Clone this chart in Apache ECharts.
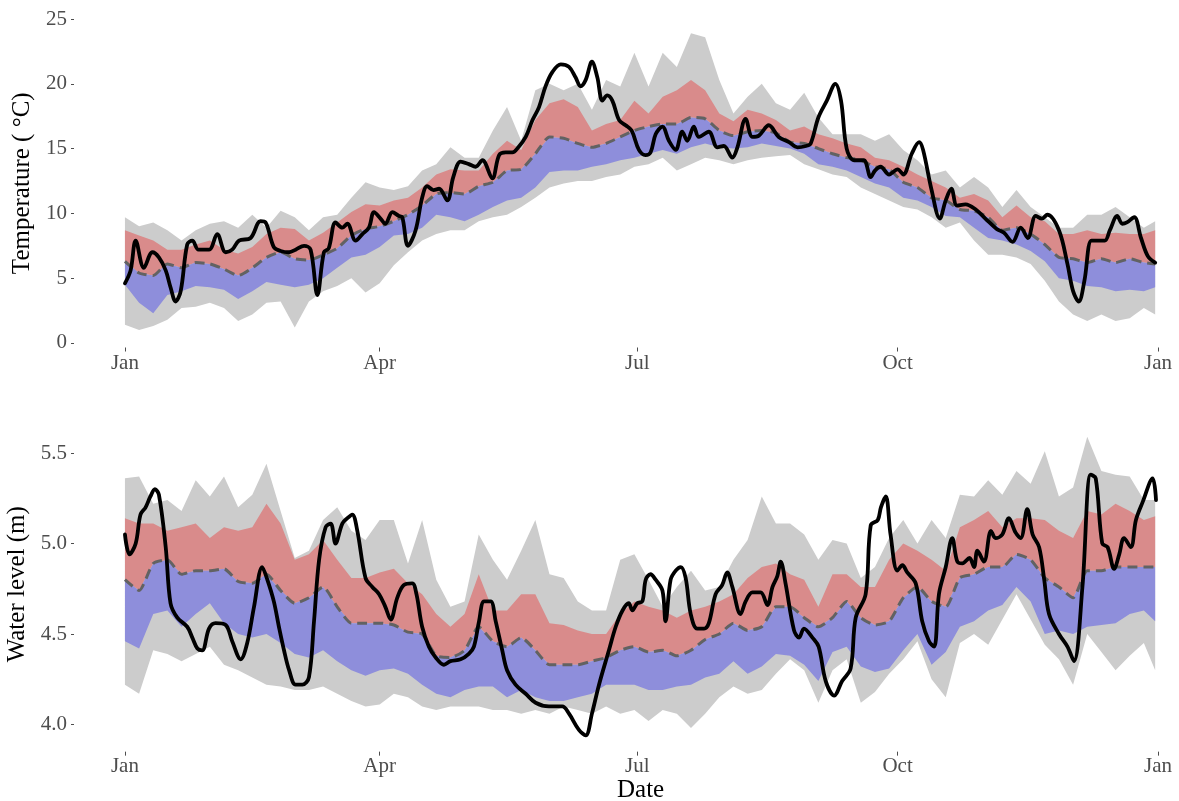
<!DOCTYPE html>
<html>
<head>
<meta charset="utf-8">
<title>Temperature and water level</title>
<script src="https://cdn.jsdelivr.net/npm/echarts@6/dist/echarts.min.js"></script>
<style>
  html, body { margin: 0; padding: 0; background: #ffffff; }
  #chart { width: 1179px; height: 801px; }
</style>
</head>
<body>
<div id="chart"></div>
<script>
// Day of year (0 = 1 Jan) at which the climatology bands are sampled
const bandDays = [
  0, 5, 10, 15, 20, 25, 30, 35, 40, 45,
  50, 55, 60, 65, 70, 75, 80, 85, 90, 95,
  100, 105, 110, 115, 120, 125, 130, 135, 140, 145,
  150, 155, 160, 165, 170, 175, 180, 185, 190, 195,
  200, 205, 210, 215, 220, 225, 230, 235, 240, 245,
  250, 255, 260, 265, 270, 275, 280, 285, 290, 295,
  300, 305, 310, 315, 320, 325, 330, 335, 340, 345,
  350, 355, 360, 364
];

// Temperature climatology (°C): max, upper quartile, median, lower quartile, min
const tempMax = [
  9.7, 9.0, 9.3, 8.7, 7.9, 8.7, 9.2, 9.4, 8.9, 9.9,
  8.9, 10.2, 9.7, 8.7, 9.7, 9.9, 11.2, 12.4, 12.0, 11.8,
  12.1, 13.3, 13.8, 15.1, 14.3, 14.3, 16.4, 18.2, 15.6, 19.5,
  20.0, 19.5, 20.0, 18.0, 20.3, 19.8, 22.4, 19.8, 22.4, 21.3,
  23.9, 23.6, 20.3, 17.7, 19.0, 20.0, 18.5, 18.0, 19.3, 17.4,
  16.1, 16.1, 16.1, 15.6, 16.1, 14.9, 14.1, 13.0, 13.3, 12.0,
  12.8, 12.0, 10.5, 11.8, 10.5, 9.7, 8.9, 8.9, 9.9, 9.9,
  10.5, 9.7, 8.9, 9.4
];
const tempQ75 = [
  8.7, 8.3, 7.9, 7.2, 7.2, 7.6, 7.9, 7.2, 6.9, 7.4,
  8.4, 8.9, 8.8, 7.9, 8.5, 9.3, 10.1, 10.7, 10.6, 11.0,
  11.2, 12.0, 13.0, 13.4, 13.3, 13.3, 14.6, 15.6, 14.9, 17.2,
  18.5, 18.8, 18.2, 16.4, 16.9, 17.2, 18.7, 17.7, 19.0, 19.5,
  20.3, 19.5, 17.7, 17.1, 18.0, 17.7, 17.2, 16.4, 16.7, 16.1,
  15.8, 15.4, 15.1, 14.3, 14.1, 13.6, 13.0, 12.5, 12.0, 11.2,
  11.5, 11.0, 9.7, 10.6, 9.7, 9.4, 8.4, 8.4, 8.7, 8.4,
  8.5, 8.4, 8.4, 8.7
];
const tempMedian = [
  6.3, 5.4, 5.2, 6.1, 5.8, 6.2, 6.1, 5.7, 5.2, 5.8,
  6.6, 7.0, 6.5, 6.4, 6.8, 7.3, 8.3, 8.8, 9.0, 9.4,
  9.9, 10.6, 11.5, 11.6, 11.5, 12.1, 12.4, 13.3, 13.4, 14.6,
  15.9, 15.8, 15.4, 15.1, 15.4, 15.9, 16.4, 16.7, 16.9, 16.9,
  17.4, 17.3, 16.4, 16.0, 16.3, 16.4, 16.2, 15.5, 15.4, 15.0,
  14.6, 14.3, 14.1, 13.6, 13.4, 12.4, 12.0, 11.2, 11.0, 10.3,
  10.2, 9.7, 8.7, 8.9, 8.4, 7.6, 6.6, 6.5, 6.2, 6.5,
  6.2, 6.5, 6.2, 6.1
];
const tempQ25 = [
  4.5, 3.1, 2.3, 3.7, 4.0, 4.4, 4.3, 4.1, 3.4, 4.0,
  4.7, 4.5, 4.3, 4.5, 5.0, 5.8, 6.6, 6.8, 7.4, 8.3,
  8.4, 8.9, 9.9, 9.7, 9.4, 9.9, 10.5, 11.0, 11.2, 12.0,
  13.2, 13.3, 13.3, 13.6, 13.8, 14.1, 14.3, 14.6, 14.9, 14.6,
  15.1, 15.4, 15.1, 15.0, 15.1, 15.4, 15.2, 15.0, 14.6, 13.8,
  13.6, 13.3, 12.8, 12.3, 12.0, 11.2, 11.0, 10.5, 9.8, 9.7,
  8.9, 8.1, 7.9, 7.6, 7.1, 6.3, 5.0, 4.8, 4.4, 4.3,
  4.0, 4.1, 4.0, 4.3
];
const tempMin = [
  1.4, 1.0, 1.3, 1.8, 2.7, 2.8, 3.1, 2.7, 1.7, 2.2,
  3.1, 3.2, 1.2, 3.2, 4.0, 4.4, 5.0, 3.9, 4.6, 6.0,
  7.0, 7.9, 8.4, 8.7, 8.7, 9.4, 9.7, 9.9, 10.5, 11.2,
  12.0, 12.3, 12.5, 12.5, 12.8, 13.0, 13.6, 13.8, 14.3, 13.3,
  13.8, 14.3, 14.1, 13.8, 14.1, 14.3, 14.4, 14.5, 13.8, 13.4,
  13.0, 12.8, 12.0, 11.5, 11.0, 10.5, 10.3, 9.7, 8.9, 9.3,
  7.9, 6.8, 6.8, 6.6, 6.1, 4.8, 3.2, 2.2, 1.7, 2.2,
  1.7, 1.9, 2.7, 2.2
];

// Water level climatology (m): max, upper quartile, median, lower quartile, min
const levelMax = [
  5.36, 5.37, 5.22, 5.24, 5.18, 5.35, 5.26, 5.37, 5.20, 5.27,
  5.44, 5.18, 4.92, 4.96, 5.13, 5.20, 5.07, 5.02, 5.13, 5.13,
  4.89, 5.13, 4.80, 4.65, 4.68, 5.05, 4.91, 4.80, 4.96, 5.13,
  4.83, 4.81, 4.68, 4.63, 4.63, 4.91, 4.94, 4.80, 4.65, 4.76,
  4.85, 4.74, 4.76, 4.91, 5.02, 5.26, 5.11, 5.11, 5.05, 4.91,
  5.02, 5.00, 4.81, 4.87, 5.03, 5.13, 5.00, 5.13, 5.03, 5.27,
  5.26, 5.35, 5.27, 5.40, 5.33, 5.51, 5.26, 5.31, 5.59, 5.40,
  5.38, 5.37, 5.24, 5.24
];
const levelQ75 = [
  5.14, 5.11, 5.11, 5.07, 5.09, 5.11, 5.03, 5.09, 5.07, 5.09,
  5.22, 5.11, 4.91, 4.94, 5.02, 4.91, 4.81, 4.81, 4.84, 4.86,
  4.78, 4.72, 4.61, 4.54, 4.61, 4.83, 4.63, 4.63, 4.72, 4.72,
  4.56, 4.55, 4.52, 4.50, 4.50, 4.61, 4.68, 4.65, 4.63, 4.59,
  4.63, 4.65, 4.68, 4.72, 4.81, 4.87, 4.89, 4.83, 4.80, 4.65,
  4.83, 4.83, 4.76, 4.76, 4.91, 5.00, 4.96, 4.91, 4.85, 5.09,
  5.13, 5.18, 5.09, 5.14, 5.14, 5.13, 5.07, 5.03, 5.18, 5.16,
  5.22, 5.18, 5.13, 5.15
];
const levelMedian = [
  4.80, 4.74, 4.89, 4.91, 4.83, 4.85, 4.85, 4.86, 4.79, 4.78,
  4.83, 4.74, 4.67, 4.70, 4.76, 4.65, 4.56, 4.56, 4.56, 4.55,
  4.51, 4.50, 4.38, 4.37, 4.41, 4.54, 4.46, 4.43, 4.48, 4.41,
  4.33, 4.33, 4.33, 4.35, 4.37, 4.41, 4.43, 4.40, 4.41, 4.38,
  4.41, 4.47, 4.50, 4.56, 4.52, 4.54, 4.65, 4.65, 4.59, 4.54,
  4.59, 4.68, 4.59, 4.55, 4.57, 4.70, 4.76, 4.68, 4.65, 4.81,
  4.83, 4.87, 4.87, 4.94, 4.91, 4.81, 4.76, 4.70, 4.85, 4.85,
  4.87, 4.87, 4.87, 4.87
];
const levelQ25 = [
  4.46, 4.42, 4.61, 4.63, 4.54, 4.61, 4.67, 4.56, 4.50, 4.48,
  4.50, 4.45, 4.39, 4.37, 4.41, 4.35, 4.30, 4.27, 4.30, 4.31,
  4.28, 4.22, 4.17, 4.15, 4.19, 4.21, 4.21, 4.15, 4.19, 4.15,
  4.13, 4.13, 4.15, 4.17, 4.22, 4.22, 4.22, 4.19, 4.19, 4.21,
  4.22, 4.26, 4.28, 4.35, 4.28, 4.32, 4.39, 4.38, 4.33, 4.24,
  4.40, 4.43, 4.32, 4.29, 4.31, 4.41, 4.50, 4.33, 4.40, 4.54,
  4.57, 4.63, 4.66, 4.76, 4.68, 4.50, 4.52, 4.50, 4.54, 4.55,
  4.56, 4.61, 4.63, 4.57
];
const levelMin = [
  4.22, 4.17, 4.41, 4.39, 4.35, 4.39, 4.43, 4.33, 4.30, 4.26,
  4.22, 4.21, 4.19, 4.19, 4.21, 4.17, 4.13, 4.10, 4.11, 4.17,
  4.15, 4.10, 4.08, 4.10, 4.10, 4.10, 4.08, 4.08, 4.06, 4.08,
  4.06, 4.10, 4.08, 4.06, 4.10, 4.06, 4.08, 4.02, 4.08, 4.06,
  3.98, 4.06, 4.15, 4.21, 4.17, 4.19, 4.28, 4.36, 4.30, 4.12,
  4.30, 4.36, 4.12, 4.18, 4.28, 4.36, 4.46, 4.25, 4.15, 4.45,
  4.50, 4.44, 4.58, 4.72, 4.58, 4.44, 4.36, 4.22, 4.50, 4.40,
  4.30, 4.38, 4.45, 4.30
];

// Current-year daily temperature (°C)
const tempObsDays = [
  0, 2, 3.8, 6.7, 9.7, 12, 14.4, 16.1, 17.9, 19.7, 22, 23.8, 26, 29.7, 32.6, 35.6,
  37.9, 40.3, 44.4, 47.9, 49.7, 52.6, 55, 58, 60.3, 63.3, 65.6, 68, 70.3, 72, 74.4,
  76.8, 78.6, 81.5, 83.9, 86.2, 88, 90.3, 92, 94.5, 96.8, 98, 100, 102.7, 105, 106.8,
  109, 111, 113.9, 116, 118.6, 121.5, 123.9, 126.3, 129.8, 132.2, 134.5, 136.9, 139,
  141.6, 144, 146.3, 148.6, 151, 154, 156.9, 159.2, 161, 162.8, 165, 166.9, 168.7,
  170.4, 172.2, 174.6, 176.9, 179, 181.6, 183.9, 185.7, 187.5, 189.9, 192.2, 194.6,
  196.9, 198.7, 201, 202.8, 206.3, 209.3, 211.6, 214.6, 216.4, 219.3, 221.7, 224,
  227.5, 231, 234.6, 237.6, 240.6, 242.3, 245, 248, 251, 253, 255, 257.6, 261, 263.5,
  265, 267, 270, 273, 275, 278, 280.6, 282, 285, 287.9, 290, 292, 294, 297, 300.6,
  304, 308, 310.6, 313.6, 316.5, 319, 321.8, 324, 325.9, 330, 333, 335, 337, 339,
  341.5, 344, 346.2, 348, 350.6, 352.4, 354, 356.6, 359, 361.4, 364
];
const tempObs = [
  4.6, 5.6, 7.9, 5.8, 7.0, 6.6, 5.6, 4.3, 3.2, 4.0, 7.6, 7.9, 7.2, 7.2, 8.4, 7.0,
  7.2, 7.9, 8.1, 9.4, 9.3, 7.4, 7.1, 7.0, 7.2, 7.5, 7.2, 3.7, 7.0, 7.3, 9.3,
  8.9, 9.2, 7.9, 8.4, 8.9, 10.1, 9.6, 9.2, 10.1, 9.8, 9.7, 7.5, 8.7, 11.2, 12.1,
  11.8, 11.9, 11.0, 12.8, 14.0, 13.8, 13.6, 14.1, 12.7, 14.5, 14.7, 14.7, 15.1,
  15.9, 17.2, 18.2, 19.8, 20.9, 21.5, 21.3, 20.5, 19.8, 20.3, 21.7, 20.5, 18.7,
  19.1, 18.7, 17.2, 16.8, 16.4, 14.9, 14.5, 14.7, 16.1, 16.7, 15.6, 14.9,
  16.3, 15.6, 16.7, 15.9, 16.3, 15.1, 15.2, 14.3, 15.1, 17.3, 15.9, 16.0,
  16.8, 15.9, 15.5, 15.1, 15.2, 15.4, 17.4, 18.7, 20.0, 18.7, 15.0, 14.1, 14.1, 12.8,
  13.3, 13.6, 13.0, 13.4, 13.0, 14.6, 15.5, 14.9, 11.8, 9.6, 11.0, 11.9, 10.6, 10.7, 10.3,
  9.6, 8.8, 8.5, 7.8, 8.9, 8.1, 9.8, 9.6, 9.9, 8.7, 6.1, 4.0, 3.2, 4.8,
  7.9, 7.9, 7.9, 8.7, 9.8, 9.2, 9.3, 9.7, 8.1, 6.7, 6.2
];

// Current-year daily water level (m)
const levelObsDays = [
  0, 1.6, 3.8, 5.5, 7.3, 9, 10.6, 12, 14.4, 16.1, 18.5, 22, 23.8, 25.6, 27.3, 29.7,
  32, 35.6, 37.9, 40.9, 43.2, 45.6, 48.5, 50.3, 52.6, 54.4, 56.2, 58, 60.3, 62.7, 65,
  66.8, 68.6, 70.9, 72.7, 74.4, 76.8, 78.6, 80.3, 82.1, 85, 87.4, 89.8, 92, 93.9,
  96.2, 98.5, 101.5, 103, 105, 107.4, 109.8, 112.7, 115, 118.6, 121.5, 123.3, 125.1,
  126.9, 129.2, 131, 133.3, 135, 138, 141.6, 145.1, 149.8, 154.5, 156.9, 160.4, 162.8,
  165, 167.5, 171, 173.4, 175.8, 178, 179.3, 181, 182.8, 184, 185.7, 187.5, 189.9, 191,
  192.8, 194.6, 196.4, 198.1, 199.9, 202.2, 204.6, 206.3, 208.7, 211, 212.8, 214.6,
  217.5, 219.3, 221.7, 224.6, 227, 228.8, 230.5, 231.7, 233.4, 236.4, 238.2, 239.9,
  242.9, 245.1, 247.6, 250.6, 253.4, 256.4, 258.2, 261.7, 263.5, 266, 267.1, 268.8,
  270.5, 272.9, 274.7, 276.4, 279.4, 281.7, 284.1, 285.9, 287.6, 290, 292.3, 294.1,
  295.9, 298.4, 300, 301.2, 303.5, 306, 307.6, 310, 312.3, 314.7, 316.5, 318.8, 320.7,
  323, 324.8, 326.5, 330, 333, 335.3, 338.3, 341.2, 343, 345.3, 347.2, 349.5, 351.3,
  353, 355.4, 357.2, 359.6, 363.1, 364.3
];
const levelObs = [
  5.05, 4.94, 5.00, 5.16, 5.20, 5.26, 5.30, 5.27, 4.98, 4.67, 4.59, 4.54, 4.48, 4.42, 4.41, 4.53,
  4.56, 4.55, 4.46, 4.36, 4.45, 4.65, 4.87, 4.80, 4.68, 4.54, 4.41, 4.30, 4.22, 4.22, 4.26,
  4.57, 4.91, 5.09, 5.11, 5.00, 5.11, 5.14, 5.16, 5.07, 4.81, 4.76, 4.72, 4.65, 4.58,
  4.70, 4.77, 4.78, 4.72, 4.54, 4.43, 4.37, 4.33, 4.35, 4.36, 4.39, 4.43, 4.57,
  4.68, 4.68, 4.57, 4.41, 4.30, 4.22, 4.17, 4.12, 4.10, 4.10, 4.06, 3.97, 3.94,
  4.06, 4.22, 4.41, 4.54, 4.63, 4.67, 4.63, 4.67, 4.68, 4.80, 4.83, 4.80, 4.74, 4.57,
  4.80, 4.85, 4.87, 4.81, 4.61, 4.53, 4.53, 4.56, 4.72, 4.77, 4.84, 4.76,
  4.61, 4.68, 4.73, 4.73, 4.66, 4.76, 4.82, 4.90, 4.78, 4.52, 4.48, 4.53,
  4.48, 4.43, 4.24, 4.16, 4.24, 4.31, 4.59, 4.72, 5.10, 5.13, 5.20, 5.26,
  5.05, 4.85, 4.88, 4.84, 4.78, 4.57, 4.46, 4.43, 4.72, 4.87, 5.03, 4.90,
  4.89, 4.92, 4.87, 4.96, 4.90, 5.07, 5.03, 5.05, 5.14, 5.06, 5.03, 5.19, 5.05,
  4.98, 4.80, 4.61, 4.50, 4.43, 4.35, 4.76, 5.38, 5.36, 5.00, 4.98, 4.86, 4.94,
  5.03, 4.98, 5.13, 5.23, 5.36, 5.24
];

// Axis ticks
const monthTickDays = [0, 90, 181, 273, 365];
const monthTickLabels = ['Jan', 'Apr', 'Jul', 'Oct', 'Jan'];
const tempTicks = [0, 5, 10, 15, 20, 25];
const levelTicks = [4.0, 4.5, 5.0, 5.5];

const FONT = '"Liberation Serif", "Times New Roman", serif';
const LABEL_COLOR = '#4d4d4d';
const GREY = '#cccccc';
const RED = '#d98b8b';
const BLUE = '#8e8edb';
const MEDIAN = '#626262';

// Panel frame: the x range starts a little before 1 Jan so that the
// y axis sits left of the data, as in a padded ggplot panel.
const X_MIN = -18;
const X_MAX = 365;

const pairs = (xs, ys) => xs.map((x, i) => [x, ys[i]]);

// A filled band between two curves, drawn as one polygon through the axes' scales
function bandSeries(idx, lo, hi, color) {
  return {
    type: 'custom', coordinateSystem: 'cartesian2d',
    xAxisIndex: idx, yAxisIndex: idx, silent: true, animation: false,
    data: bandDays.map((d, i) => [d, lo[i], hi[i]]),
    encode: { x: 0, y: [1, 2] },
    renderItem: (params, api) => {
      if (params.dataIndex !== 0) return null;
      const upper = bandDays.map((d, i) => api.coord([d, hi[i]]));
      const lower = bandDays.map((d, i) => api.coord([d, lo[i]])).reverse();
      return {
        type: 'polygon',
        shape: { points: upper.concat(lower) },
        style: { fill: color, stroke: null }
      };
    }
  };
}

function panelSeries(idx, maxA, q75A, medA, q25A, minA, obsDays, obsA) {
  return [
    bandSeries(idx, minA, maxA, GREY),
    bandSeries(idx, medA, q75A, RED),
    bandSeries(idx, q25A, medA, BLUE),
    {
      type: 'line', xAxisIndex: idx, yAxisIndex: idx, symbol: 'none',
      silent: true, animation: false, smooth: 0.2,
      data: pairs(bandDays, medA),
      lineStyle: { color: MEDIAN, width: 3, type: [10, 6] }
    },
    {
      type: 'line', xAxisIndex: idx, yAxisIndex: idx, symbol: 'none',
      silent: true, animation: false, smooth: 0.35,
      data: pairs(obsDays, obsA),
      lineStyle: { color: '#000000', width: 3.8, cap: 'round', join: 'round' }
    }
  ];
}

function xAxisFor(idx) {
  return {
    type: 'value', gridIndex: idx, min: X_MIN, max: X_MAX,
    splitLine: { show: false }, axisLine: { show: false, onZero: false },
    axisTick: { show: true, customValues: monthTickDays, length: 4,
      lineStyle: { color: LABEL_COLOR, width: 1 } },
    axisLabel: { customValues: monthTickDays, margin: idx === 0 ? 5 : 4,
      color: LABEL_COLOR, fontFamily: FONT, fontSize: 21,
      formatter: (v) => monthTickLabels[monthTickDays.indexOf(v)] }
  };
}

function yAxisFor(idx, min, max, ticks, title, digits) {
  return {
    type: 'value', gridIndex: idx, min: min, max: max,
    splitLine: { show: false }, axisLine: { show: false, onZero: false },
    axisTick: { show: true, customValues: ticks, length: 3,
      lineStyle: { color: LABEL_COLOR, width: 1 } },
    axisLabel: { customValues: ticks, margin: 7, color: LABEL_COLOR,
      fontFamily: FONT, fontSize: 21, formatter: (v) => v.toFixed(digits) },
    name: title, nameLocation: 'middle', nameGap: 39, nameRotate: 90,
    nameTextStyle: { color: '#000000', fontFamily: FONT, fontSize: 25 }
  };
}

const chart = echarts.init(document.getElementById('chart'), null, { renderer: 'canvas' });
chart.setOption({
  backgroundColor: '#ffffff',
  animation: false,
  textStyle: { fontFamily: FONT },
  title: {
    text: 'Date', left: 617, top: 778, padding: 0,
    textStyle: { color: '#000000', fontFamily: FONT, fontSize: 25, fontWeight: 'normal' }
  },
  grid: [
    { left: 74, width: 1084, top: 19, height: 328.5, containLabel: false, outerBoundsMode: 'none' },
    { left: 74, width: 1084, top: 416.8, height: 334.85, containLabel: false, outerBoundsMode: 'none' }
  ],
  xAxis: [xAxisFor(0), xAxisFor(1)],
  yAxis: [
    yAxisFor(0, -0.35, 25, tempTicks, 'Temperature ( °C)', 0),
    yAxisFor(1, 3.85, 5.7, levelTicks, 'Water level (m)', 1)
  ],
  series: [].concat(
    panelSeries(0, tempMax, tempQ75, tempMedian, tempQ25, tempMin, tempObsDays, tempObs),
    panelSeries(1, levelMax, levelQ75, levelMedian, levelQ25, levelMin, levelObsDays, levelObs)
  )
});
</script>
</body>
</html>
